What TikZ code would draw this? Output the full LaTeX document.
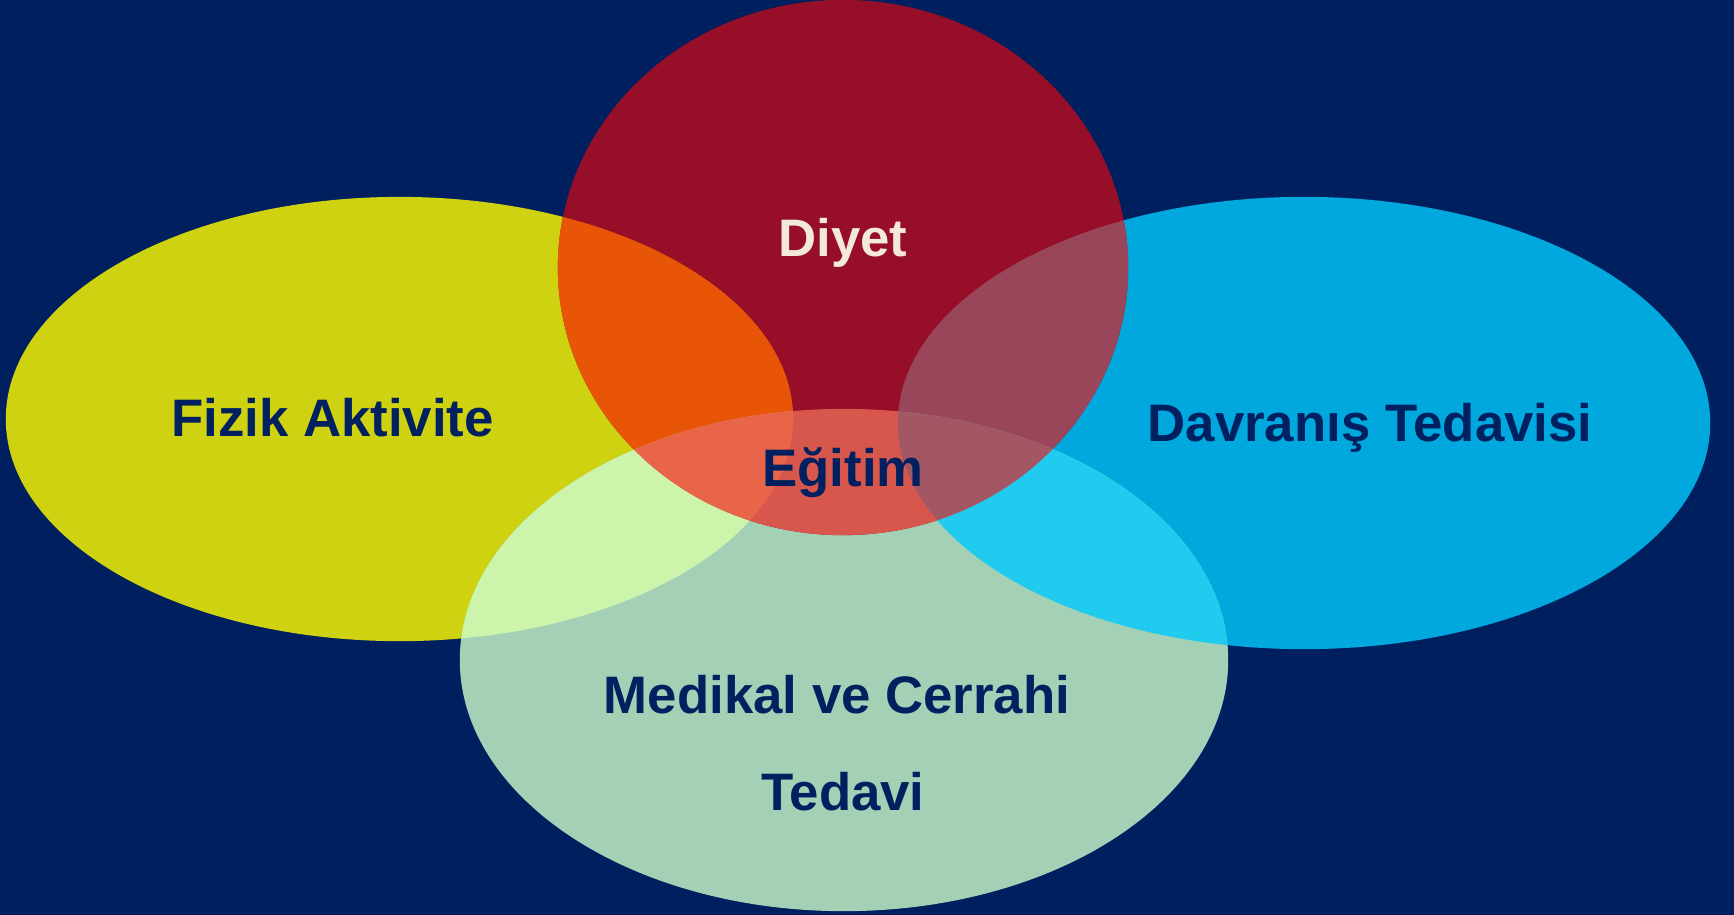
\documentclass[tikz,border=0pt]{standalone}
\usepackage{fontspec}
\setmainfont{Liberation Sans}
\begin{document}
\begin{tikzpicture}[x=0.01cm,y=-0.01cm,
  lbl/.style={anchor=base,inner sep=0pt,font=\fontsize{15}{18}\selectfont\bfseries,text=txtnavy}]
\definecolor{bgnavy}{RGB}{0,31,95}
\definecolor{txtnavy}{RGB}{0,32,96}
\definecolor{cyel}{RGB}{206,210,17}
\definecolor{cred}{RGB}{150,14,40}
\definecolor{cblue}{RGB}{0,168,222}
\definecolor{cgreen}{RGB}{164,209,182}
\definecolor{cYR}{RGB}{232,85,6}
\definecolor{cRB}{RGB}{153,70,91}
\definecolor{cYG}{RGB}{204,244,170}
\definecolor{cBG}{RGB}{32,203,239}
\definecolor{cRG}{RGB}{216,87,77}
\definecolor{cYRG}{RGB}{233,101,73}
\definecolor{cRBG}{RGB}{163,87,100}
\definecolor{cream}{RGB}{242,232,220}
% the four sets
\def\Yel{(399.5,419) ellipse [x radius=3.935cm, y radius=2.22cm]}
\def\Red{(843,267.5) ellipse [x radius=2.85cm, y radius=2.675cm]}
\def\Blu{(1304,423) ellipse [x radius=4.06cm, y radius=2.26cm]}
\def\Grn{(844,660) ellipse [x radius=3.84cm, y radius=2.51cm]}
\useasboundingbox (0,0) rectangle (1734,914);
\fill[bgnavy] (-10,-10) rectangle (1744,924);
\fill[cyel] \Yel;
\fill[cblue] \Blu;
\fill[cgreen] \Grn;
\fill[cred] \Red;
% pairwise overlaps
\begin{scope}\clip \Yel; \fill[cYR] \Red; \end{scope}
\begin{scope}\clip \Red; \fill[cRB] \Blu; \end{scope}
\begin{scope}\clip \Yel; \fill[cYG] \Grn; \end{scope}
\begin{scope}\clip \Blu; \fill[cBG] \Grn; \end{scope}
\begin{scope}\clip \Red; \fill[cRG] \Grn; \end{scope}
% triple overlaps
\begin{scope}\clip \Yel; \clip \Red; \fill[cYRG] \Grn; \end{scope}
\begin{scope}\clip \Red; \clip \Blu; \fill[cRBG] \Grn; \end{scope}
% labels
\node[lbl,text=cream] (diyet) at (843,256) {Diyet};
\node[lbl] (fizik) at (332.5,436) {Fizik Aktivite};
\node[lbl] (davranis) at (1370,441) {Davranış Tedavisi};
\node[lbl] (egitim) at (843,486) {Eğitim};
\node[lbl] (medikal) at (837,713) {Medikal ve Cerrahi};
\node[lbl] (tedavi) at (843,810) {Tedavi};
\end{tikzpicture}
\end{document}
